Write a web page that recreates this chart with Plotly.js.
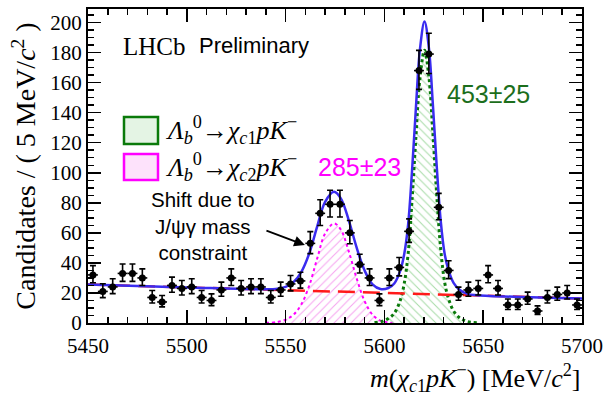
<!DOCTYPE html>
<html>
<head>
<meta charset="utf-8">
<script src="https://cdn.plot.ly/plotly-3.0.1.min.js"></script>
<style>html,body{margin:0;padding:0;background:#fff;}#chart{width:606px;height:396px;}</style>
</head>
<body>
<div id="chart"></div>
<script>
// Data: bin centres (MeV/c^2) and candidate counts per 5 MeV bin
const binCentres = [5452.5,5457.5,5462.5,5467.5,5472.5,5477.5,5482.5,5487.5,5492.5,5497.5,
  5502.5,5507.5,5512.5,5517.5,5522.5,5527.5,5532.5,5537.5,5542.5,5547.5,
  5552.5,5557.5,5562.5,5567.5,5572.5,5577.5,5582.5,5587.5,5592.5,5597.5,
  5602.5,5607.5,5612.5,5617.5,5622.5,5627.5,5632.5,5637.5,5642.5,5647.5,
  5652.5,5657.5,5662.5,5667.5,5672.5,5677.5,5682.5,5687.5,5692.5,5697.5];
const counts = [32,21,24,33,33,30,17,14,25,23,
  24,17,15,22,30,23,24,24,17,22,
  26,28,53,73,79,79,60,39,30,15,
  30,37,61,168,179,77,35,19,22,23,
  32,23,12,12,16,8,17,19,20,12];
const binHalfWidth = 2.5;

// Fit curves
const bkgX = [5450,5500,5550,5600,5650,5700];
const bkgY = [25.6,23.7,21.9,20.0,18.2,16.3];

const chic2X = [5540,5545,5550,5554,5558,5562,5566,5570,5574.5,5578,5582,5586,5590,5594,5598,5602,5606];
const chic2Y = [0.1,0.5,2.2,5.5,12.5,25,43,59.5,66.3,62,47.5,29.5,14.5,5.5,1.6,0.4,0];

const chic1X = [5595,5599,5602,5605,5608,5610,5612,5614,5616,5618,5620.3,5622.5,5624.5,5626.5,5628.5,5630.5,5632.5,5635,5638,5642,5647];
const chic1Y = [0.3,1.2,3,6.5,15,26,46,82,125,163,181.5,164,127,85,49,27,16,8,3.5,1,0.2];

const totalX = [5450,5500,5540,5545,5550,5554,5558,5562,5566,5570,5574.5,5578,5582,5586,5590,5594,5598,5602,5605,5608,5610,5612,5614,5616,5618,5620.3,5622.5,5624.5,5626.5,5628.5,5630.5,5632.5,5635,5638,5642,5647,5700];
const totalY = [25.6,23.7,22.4,22.6,24.1,27.2,34.1,46.4,64.3,80.6,87.3,82.8,68.2,50,34.9,25.7,22.6,23.3,26.3,34.7,45.6,65.5,101.5,144.4,182.3,200.7,183.2,146.1,104,67.9,45.9,34.8,26.7,22.1,19.4,18.5,16.3];

const yieldC1 = '453±25';
const yieldC2 = '285±23';

const errUp = counts.map(n => 0.5 + Math.sqrt(n + 0.25));
const errDn = counts.map(n => Math.sqrt(n + 0.25) - 0.5);

const traces = [
  {x: chic2X, y: chic2Y, type:'scatter', mode:'lines', fill:'tozeroy',
   fillcolor:'rgba(255,255,255,0)',
   fillpattern:{shape:'/', fgcolor:'#f6a6f0', bgcolor:'rgba(255,255,255,0)', size:6, solidity:0.18},
   line:{color:'#ff00ff', width:2, dash:'dot', shape:'spline'}, hoverinfo:'skip'},
  {x: chic1X, y: chic1Y, type:'scatter', mode:'lines', fill:'tozeroy',
   fillcolor:'rgba(255,255,255,0)',
   fillpattern:{shape:'\\', fgcolor:'#a9dca9', bgcolor:'rgba(255,255,255,0)', size:6, solidity:0.18},
   line:{color:'#0a7a0a', width:3, dash:'dot', shape:'spline'}, hoverinfo:'skip'},
  {x: bkgX, y: bkgY, type:'scatter', mode:'lines',
   line:{color:'#ff1a1a', width:2.5, dash:'17px,8px', shape:'spline'}, hoverinfo:'skip'},
  {x: totalX, y: totalY, type:'scatter', mode:'lines',
   line:{color:'#3a2cf0', width:2.5, shape:'spline'}, hoverinfo:'skip'},
  {x: binCentres, y: counts, type:'scatter', mode:'markers',
   marker:{color:'#000', size:7},
   error_y:{type:'data', symmetric:false, array:errUp, arrayminus:errDn, color:'#000', thickness:1.6, width:3},
   error_x:{type:'constant', value:binHalfWidth, color:'#000', thickness:1.6, width:0}}
];

const px2x = p => (p - 88) / 494;
const px2y = p => (323 - p) / 314;

const layout = {
  width:606, height:396,
  margin:{l:88, r:24, t:9, b:73},
  paper_bgcolor:'#fff', plot_bgcolor:'#fff',
  showlegend:false,
  font:{family:'Liberation Serif', color:'#000'},
  xaxis:{range:[5450,5700], tick0:5450, dtick:50, ticks:'inside', ticklen:13, tickwidth:1.5,
    tickcolor:'#000', showline:true, linecolor:'#000', linewidth:2, mirror:'allticks',
    showgrid:false, zeroline:false, ticklabelstandoff:3,
    tickfont:{family:'Liberation Serif', size:21, color:'#000'},
    minor:{dtick:10, ticks:'inside', ticklen:6, tickwidth:1.5, tickcolor:'#000', showgrid:false}},
  yaxis:{range:[0,209], tick0:0, dtick:20, ticks:'inside', ticklen:13, tickwidth:1.5,
    tickcolor:'#000', showline:true, linecolor:'#000', linewidth:2, mirror:'allticks',
    showgrid:false, zeroline:false,
    tickfont:{family:'Liberation Serif', size:21, color:'#000'},
    minor:{dtick:5, ticks:'inside', ticklen:6, tickwidth:1.5, tickcolor:'#000', showgrid:false},
    title:{text:'Candidates / ( 5 MeV/<i>c</i><sup>2</sup> )', font:{family:'Liberation Serif', size:28, color:'#000'}, standoff:6}},
  shapes:[
    {type:'rect', xref:'paper', yref:'paper', x0:px2x(124), x1:px2x(158), y0:px2y(144), y1:px2y(117),
     line:{color:'#0a7a0a', width:2.5}, fillcolor:'#e4f4e4'},
    {type:'rect', xref:'paper', yref:'paper', x0:px2x(124), x1:px2x(158), y0:px2y(180), y1:px2y(154),
     line:{color:'#ff00ff', width:2.5}, fillcolor:'#fde2fb'}
  ],
  annotations:[
    {xref:'paper', yref:'paper', x:1, y:px2y(378), xanchor:'right', yanchor:'middle', showarrow:false,
     text:'<i>m</i>(<i>χ</i><sub><i>c</i>1</sub><i>pK</i><sup>−</sup>) [MeV/<i>c</i><sup>2</sup>]',
     font:{family:'Liberation Serif', size:26, color:'#000'}},
    {xref:'paper', yref:'paper', x:px2x(121), y:px2y(47), xanchor:'left', yanchor:'middle', showarrow:false,
     text:'LHCb', font:{family:'Liberation Serif', size:25, color:'#000'}},
    {xref:'paper', yref:'paper', x:px2x(197), y:px2y(46), xanchor:'left', yanchor:'middle', showarrow:false,
     text:'Preliminary', font:{family:'Liberation Sans', size:22, color:'#000'}},
    {xref:'paper', yref:'paper', x:px2x(163), y:px2y(130), xanchor:'left', yanchor:'middle', showarrow:false,
     text:'<i>Λ</i><sub><i>b</i></sub><sup>0</sup>→<i>χ</i><sub><i>c</i>1</sub><i>pK</i><sup>−</sup>',
     font:{family:'Liberation Serif', size:26, color:'#000'}},
    {xref:'paper', yref:'paper', x:px2x(163), y:px2y(167), xanchor:'left', yanchor:'middle', showarrow:false,
     text:'<i>Λ</i><sub><i>b</i></sub><sup>0</sup>→<i>χ</i><sub><i>c</i>2</sub><i>pK</i><sup>−</sup>',
     font:{family:'Liberation Serif', size:26, color:'#000'}},
    {xref:'paper', yref:'paper', x:px2x(316), y:px2y(167), xanchor:'left', yanchor:'middle', showarrow:false,
     text:yieldC2, font:{family:'Liberation Sans', size:25, color:'#ff00ff'}},
    {xref:'paper', yref:'paper', x:px2x(445), y:px2y(94), xanchor:'left', yanchor:'middle', showarrow:false,
     text:yieldC1, font:{family:'Liberation Sans', size:25, color:'#1c6e1c'}},
    {xref:'paper', yref:'paper', x:px2x(203), y:px2y(226), xanchor:'center', yanchor:'middle', showarrow:false,
     text:'Shift due to<br>J/ψγ mass<br>constraint', align:'center',
     font:{family:'Liberation Sans', size:20.5, color:'#000'}},
    {x:5559.8, y:51.9, ax:-40, ay:-15, showarrow:true, arrowhead:2, arrowsize:1.2, arrowwidth:1.8,
     arrowcolor:'#000', text:''}
  ]
};

Plotly.newPlot('chart', traces, layout, {displayModeBar:false, staticPlot:true});
</script>
</body>
</html>
